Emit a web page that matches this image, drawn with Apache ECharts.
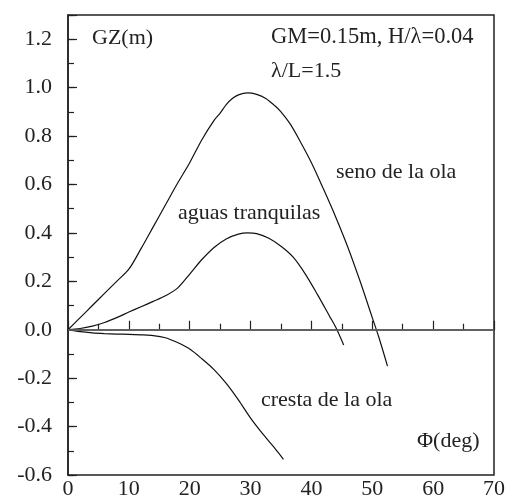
<!DOCTYPE html>
<html>
<head>
<meta charset="utf-8">
<script src="https://cdn.jsdelivr.net/npm/echarts@6/dist/echarts.min.js"></script>
<style>
html,body{margin:0;padding:0;background:#fff;}
#c{width:508px;height:502px;}
</style>
</head>
<body>
<div id="c"></div>
<script>
// Data (x = heel angle Φ in deg, y = GZ in m)
const senoX   = [0,2,4,6,8,10,12,14,16,18,20,22,24,25,26,27,28,29.5,31,32.5,34,35,36.5,38,40,42,44,46,48,50,51,52.5];
const senoY   = [0,0.05,0.1,0.15,0.2,0.25,0.335,0.425,0.515,0.605,0.69,0.785,0.865,0.895,0.93,0.955,0.97,0.978,0.972,0.955,0.925,0.9,0.85,0.785,0.69,0.58,0.465,0.34,0.2,0.05,-0.025,-0.15];
const aguasX  = [0,2,4,6,8,10,12,14,16,18,20,22,24,26,28,29.5,31,33,35,37,39,41,43,44,45.3];
const aguasY  = [0,0.005,0.015,0.03,0.05,0.073,0.095,0.117,0.14,0.172,0.23,0.29,0.34,0.375,0.395,0.4,0.397,0.378,0.345,0.3,0.23,0.145,0.055,0.01,-0.063];
const crestaX = [0,2,4,6,8,10,12,14,16,18,20,22,24,26,28,30,32,34,35.4];
const crestaY = [0,-0.008,-0.013,-0.016,-0.018,-0.019,-0.021,-0.024,-0.033,-0.053,-0.08,-0.12,-0.165,-0.222,-0.29,-0.365,-0.43,-0.49,-0.535];

const xTicks = [0,10,20,30,40,50,60,70];
const yTicks = [-0.6,-0.4,-0.2,0.0,0.2,0.4,0.6,0.8,1.0,1.2];

const labels = {
  gz: 'GZ(m)',
  params1: 'GM=0.15m, H/λ=0.04',
  params2: 'λ/L=1.5',
  seno: 'seno de la ola',
  aguas: 'aguas tranquilas',
  cresta: 'cresta de la ola',
  phi: 'Φ(deg)'
};

const pair = (xs, ys) => xs.map((x, i) => [x, ys[i]]);
const FONT = '"Liberation Serif", "DejaVu Serif", serif';
const TXT = '#222';

const chart = echarts.init(document.getElementById('c'), null, {renderer: 'canvas'});

const lineSeries = (name, xs, ys) => ({
  name, type: 'line', data: pair(xs, ys), showSymbol: false, symbol: 'none',
  smooth: 0.3, lineStyle: {color: '#111', width: 1.2}, z: 3
});

const option = {
  animation: false,
  backgroundColor: '#fff',
  grid: {left: 68, right: 14, top: 15, bottom: 27, show: true, borderColor: '#222', borderWidth: 1.5, backgroundColor: 'transparent'},
  xAxis: [{
    type: 'value', min: xTicks[0], max: xTicks[xTicks.length - 1], interval: 10,
    axisLine: {show: true, lineStyle: {color: '#222', width: 1.5}},
    axisTick: {show: true, inside: true, length: 9, lineStyle: {color: '#222', width: 1.2}},
    minorTick: {show: true, splitNumber: 2, length: 6, lineStyle: {color: '#222', width: 1.2}},
    splitLine: {show: false},
    axisLabel: {fontFamily: FONT, fontSize: 22, color: TXT, margin: 3}
  }],
  yAxis: [{
    type: 'value', min: yTicks[0], max: 1.3, interval: 0.2,
    axisLine: {show: true, lineStyle: {color: '#222', width: 1.5}},
    axisTick: {show: true, inside: true, length: 9, lineStyle: {color: '#222', width: 1.2}},
    splitLine: {show: false},
    axisLabel: {fontFamily: FONT, fontSize: 22, color: TXT, margin: 16,
      formatter: v => (yTicks.some(t => Math.abs(t - v) < 1e-6) ? v.toFixed(1) : '')}
  }, {
    type: 'value', min: yTicks[0], max: 1.3, interval: 0.1, position: 'left',
    axisLine: {show: false},
    axisTick: {show: true, inside: true, length: 6, lineStyle: {color: '#222', width: 1.2}},
    splitLine: {show: false},
    axisLabel: {show: false}
  }],
  series: [
    lineSeries('seno', senoX, senoY),
    lineSeries('aguas', aguasX, aguasY),
    lineSeries('cresta', crestaX, crestaY),
    {
      type: 'line', data: [], silent: true,
      markLine: {symbol: 'none', silent: true, label: {show: false},
        lineStyle: {color: '#666', width: 1.6, type: 'solid'},
        data: [{yAxis: 0}]}
    }
  ],
  graphic: [
    {type: 'text', left: 92, top: 27, style: {text: labels.gz, font: '22px ' + FONT, fill: TXT}},
    {type: 'text', left: 271, top: 26, style: {text: labels.params1, font: '22.5px ' + FONT, fill: TXT}},
    {type: 'text', left: 271, top: 60, style: {text: labels.params2, font: '22px ' + FONT, fill: TXT}},
    {type: 'text', left: 336, top: 161, style: {text: labels.seno, font: '22px ' + FONT, fill: TXT}},
    {type: 'text', left: 178, top: 202, style: {text: labels.aguas, font: '22px ' + FONT, fill: TXT}},
    {type: 'text', left: 261, top: 389, style: {text: labels.cresta, font: '22px ' + FONT, fill: TXT}},
    {type: 'text', left: 417, top: 430, style: {text: labels.phi, font: '22px ' + FONT, fill: TXT}}
  ]
};
chart.setOption(option);
</script>
</body>
</html>
